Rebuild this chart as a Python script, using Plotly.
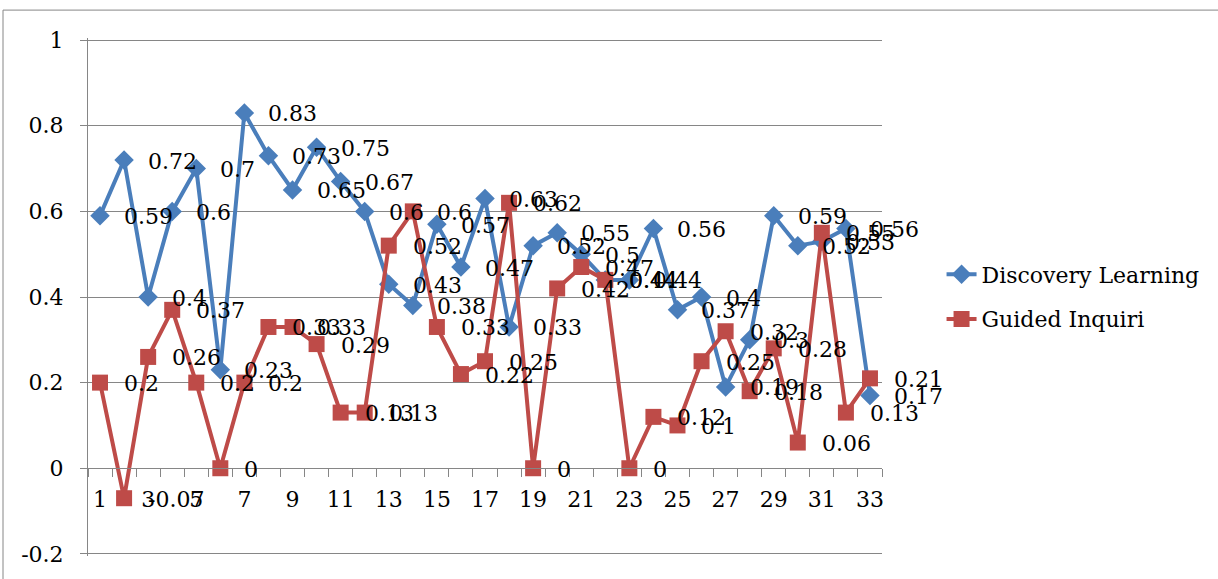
import plotly.graph_objects as go

# Item numbers along the category axis
items = list(range(1, 34))

# Scores per item for each learning model
discovery_learning = [0.59, 0.72, 0.40, 0.60, 0.70, 0.23, 0.83, 0.73, 0.65, 0.75, 0.67,
                      0.60, 0.43, 0.38, 0.57, 0.47, 0.63, 0.33, 0.52, 0.55, 0.50, 0.44,
                      0.44, 0.56, 0.37, 0.40, 0.19, 0.30, 0.59, 0.52, 0.53, 0.56, 0.17]
guided_inquiri = [0.20, -0.07, 0.26, 0.37, 0.20, 0.00, 0.20, 0.33, 0.33, 0.29, 0.13,
                  0.13, 0.52, 0.60, 0.33, 0.22, 0.25, 0.62, 0.00, 0.42, 0.47, 0.44,
                  0.00, 0.12, 0.10, 0.25, 0.32, 0.18, 0.28, 0.06, 0.55, 0.13, 0.21]

# Axis ticks
y_tickvals = [-0.2, 0, 0.2, 0.4, 0.6, 0.8, 1]
y_ticktext = ["-0.2", "0", "0.2", "0.4", "0.6", "0.8", "1"]
x_tickvals = [i for i in items if i % 2 == 1]
x_boundaries = [i - 0.5 for i in items] + [items[-1] + 0.5]

FONT = "DejaVu Serif"
FS = 22
BLUE = "#4A7EBB"
RED = "#BE4B48"
GRID = "#868686"

y_range = [-0.205, 1.005]
zero_pos = (0 - y_range[0]) / (y_range[1] - y_range[0])

fig = go.Figure()
fig.add_trace(go.Scatter(
    x=items, y=discovery_learning, name="Discovery Learning", mode="lines+markers",
    line=dict(color=BLUE, width=4),
    marker=dict(symbol="diamond", size=15, color=BLUE),
    legendgroup="dl",
))
fig.add_trace(go.Scatter(
    x=items, y=guided_inquiri, name="Guided Inquiri", mode="lines+markers",
    line=dict(color=RED, width=4),
    marker=dict(symbol="square", size=16, color=RED),
    legendgroup="gi",
))

# Value labels to the right of every point
annotations = []
for series in (discovery_learning, guided_inquiri):
    for x, v in zip(items, series):
        annotations.append(dict(
            x=x, y=v, text=f"{v:g}", showarrow=False,
            xanchor="left", yanchor="middle", xshift=22, yshift=-1,
            font=dict(family=FONT, size=FS, color="black"),
        ))

fig.update_layout(
    width=1218, height=579,
    margin=dict(l=88, r=336, t=38, b=21),
    paper_bgcolor="white", plot_bgcolor="white",
    font=dict(family=FONT, size=FS, color="black"),
    showlegend=True,
    legend=dict(
        x=1.075, y=0.5, xanchor="left", yanchor="middle",
        font=dict(family=FONT, size=FS, color="black"),
        tracegroupgap=13, traceorder="grouped",
        bgcolor="rgba(0,0,0,0)",
    ),
    annotations=annotations,
    xaxis=dict(
        range=[0.5, 33.5], anchor="free", position=zero_pos,
        tickmode="array", tickvals=x_tickvals, ticktext=[str(v) for v in x_tickvals],
        ticks="outside", ticklen=8, tickcolor="rgba(0,0,0,0)", ticklabelstandoff=3,
        minor=dict(tickmode="array", tickvals=x_boundaries, ticks="outside",
                   ticklen=8, tickcolor=GRID, showgrid=False),
        showline=True, linecolor=GRID, linewidth=1,
        showgrid=False, zeroline=False,
        tickfont=dict(family=FONT, size=FS, color="black"),
    ),
    yaxis=dict(
        range=y_range, tickmode="array", tickvals=y_tickvals, ticktext=y_ticktext,
        ticks="outside", ticklen=7, tickcolor=GRID, ticklabelstandoff=12,
        showline=True, linecolor=GRID, linewidth=1,
        showgrid=True, gridcolor=GRID, gridwidth=1, zeroline=False,
        tickfont=dict(family=FONT, size=FS, color="black"),
    ),
    shapes=[dict(
        type="rect", xref="paper", yref="paper",
        x0=(3 - 88) / 794, x1=2, y0=-1, y1=(558 - 10) / 520,
        line=dict(color=GRID, width=1), fillcolor="rgba(0,0,0,0)", layer="below",
    )],
)

fig.write_html("out.html")
